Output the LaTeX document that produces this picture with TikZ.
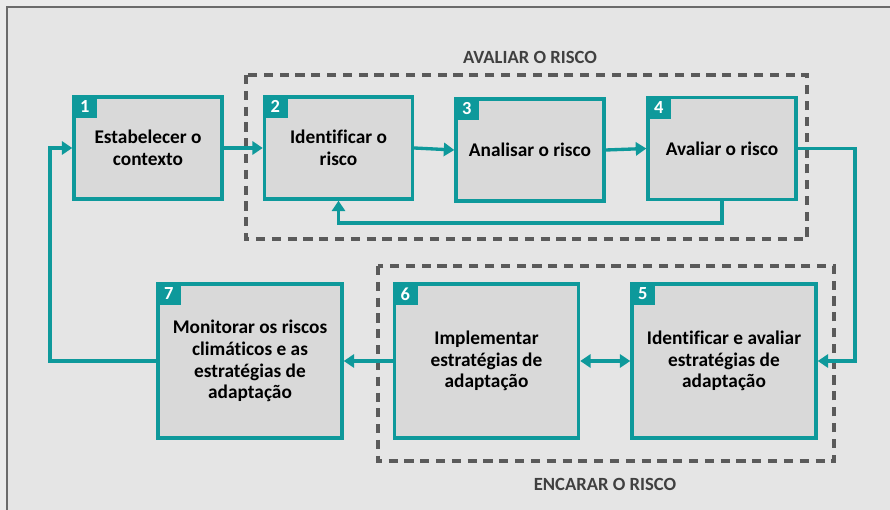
\documentclass[tikz,border=0pt]{standalone}
\usepackage{fontspec}
\setmainfont{Carlito}[Ligatures=NoCommon]
\usetikzlibrary{arrows.meta,positioning}
\definecolor{tealc}{HTML}{0E999B}
\definecolor{boxgray}{HTML}{D9D9D9}
\definecolor{bggray}{HTML}{E5E5E5}
\definecolor{outgray}{HTML}{EBEBEB}
\definecolor{dashgray}{HTML}{5A5A5A}
\definecolor{labgray}{HTML}{404040}
\tikzstyle{stepbox} = [draw=tealc,line width=1.9pt,fill=boxgray,rectangle,inner sep=0,align=center,font=\bfseries\fontsize{11}{12.4}\selectfont,minimum width=2.96cm,minimum height=2.04cm]
\tikzstyle{bigbox} = [stepbox,minimum width=3.68cm,minimum height=3.08cm]
\tikzstyle{tag} = [fill=tealc,text=white,inner sep=0,outer sep=0,anchor=north west,minimum width=0.5cm,minimum height=0.46cm,font=\bfseries\fontsize{10.5}{12}\selectfont]
\tikzstyle{link} = [draw=tealc,line width=1.9pt,-{Triangle[length=6pt,width=7.5pt]}]
\tikzstyle{group} = [draw=dashgray,line width=2.1pt,dash pattern=on 5.2pt off 3.8pt]
\tikzstyle{grouplabel} = [text=labgray,font=\bfseries\fontsize{10.6}{12}\selectfont]

\begin{document}
\begin{tikzpicture}[x=0.02cm,y=-0.02cm]
      \useasboundingbox (0,0) rectangle (890,510);
      \fill[outgray] (0,0) rectangle (890,510);
      \fill[bggray] (7,7) rectangle (890,510);
      \draw[dashgray!90,line width=1.7pt] (7,510) -- (7,7) -- (890,7);
      % groups
      \draw[group] (246,75) rectangle (807,239);
      \draw[group] (378,266) rectangle (834,461);
      \node[grouplabel] (avaliar) at (530,57) {AVALIAR O RISCO};
      \node[grouplabel] (encarar) at (605,484) {ENCARAR O RISCO};
      % steps
      \node[stepbox] (b1) at (148,148) {Estabelecer o\\contexto};
      \node[stepbox] (b2) at (338.5,148) {Identificar o\\risco};
      \node[stepbox] (b3) at (530,150) {Analisar o risco};
      \node[stepbox] (b4) at (722,148.5) {Avaliar o risco};
      \node[bigbox] (b7) at (250,361) {Monitorar os riscos\\climáticos e as\\estratégias de\\adaptação};
      \node[bigbox] (b6) at (486.5,361) {Implementar\\estratégias de\\adaptação};
      \node[bigbox] (b5) at (724,361) {Identificar e avaliar\\estratégias de\\adaptação};
      \node[tag] at (b1.north west) {1};
      \node[tag] at (b2.north west) {2};
      \node[tag] at (b3.north west) {3};
      \node[tag] at (b4.north west) {4};
      \node[tag] at (b5.north west) {5};
      \node[tag] at (b6.north west) {6};
      \node[tag] at (b7.north west) {7};
      % connectors
      \coordinate (c45) at (855,148.5);
      \coordinate (c71) at (50,361);
      \draw[link] (b1.east) -- (b2.west);
      \draw[link] (b2.east) -- (b3.west);
      \draw[link] (b3.east) -- (b4.west);
      \draw[link] (b4.south) -- ++(0,22) -| (b2.south);
      \draw[link] (b4.east) -- (c45) |- (b5.east);
      \draw[link,{Triangle[length=6pt,width=7.5pt]}-{Triangle[length=6pt,width=7.5pt]}] (b6.east) -- (b5.west);
      \draw[link] (b6.west) -- (b7.east);
      \draw[link] (b7.west) -- (c71) |- (b1.west);
\end{tikzpicture}
\end{document}
